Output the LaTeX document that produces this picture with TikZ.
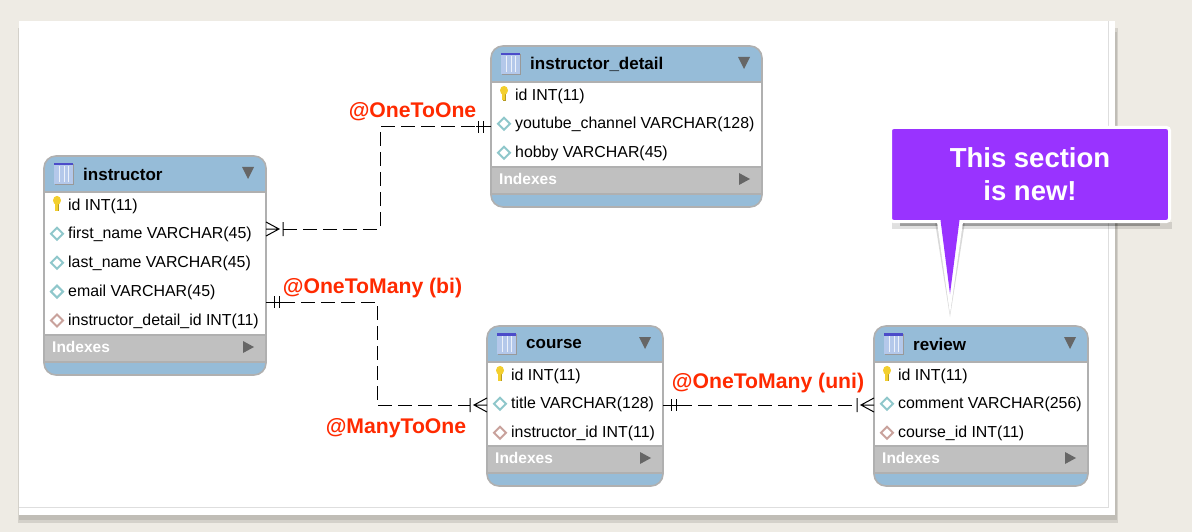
\documentclass[tikz,border=0pt]{standalone}
\usepackage{fontspec}
\setmainfont{Liberation Sans}
\definecolor{paperbg}{HTML}{EEEBE4}
\definecolor{papershadow}{HTML}{B4B2AB}
\definecolor{headblue}{HTML}{96BCD8}
\definecolor{indexgray}{HTML}{C0C0C0}
\definecolor{framegray}{HTML}{B0B0B0}
\definecolor{markgray}{HTML}{666666}
\definecolor{plaindiamond}{HTML}{8FC7CB}
\definecolor{fkdiamond}{HTML}{C9A29C}
\definecolor{keyyellow}{HTML}{F3CF2E}
\definecolor{labelred}{HTML}{FF2A00}
\definecolor{calloutpurple}{HTML}{9933FF}
\definecolor{iconbody}{HTML}{B4C8EA}
\tikzset{
	tabletitle/.style={anchor=west,inner sep=0pt,font=\fontsize{17}{20}\selectfont\bfseries},
	tablerow/.style={anchor=west,inner sep=0pt,font=\fontsize{15.9}{19}\selectfont},
	tableindex/.style={anchor=west,inner sep=0pt,text=white,font=\fontsize{15.5}{18}\selectfont\bfseries},
	rellabel/.style={inner sep=0pt,text=labelred,font=\fontsize{21.2}{25}\selectfont\bfseries},
	relline/.style={line width=1pt,dash pattern=on 14pt off 6pt},
	pics/crowfoot/.style={code={
		\draw [line width=1pt] (0,-7) -- (13,0) -- (0,7) (0,0) -- (13,0) (17,-7) -- (17,7);
	}},
	pics/onebars/.style={code={
		\draw [line width=1pt] (0,0) -- (15,0) (8,-6) -- (8,6) (13,-6) -- (13,6);
	}},
	pics/key/.style={code={
		\fill [keyyellow!75!black] (-1.4,-1) rectangle (1.6,6);
		\fill [keyyellow] (-1.6,-1) rectangle (1,5.6);
		\fill [keyyellow] (0,-4.5) ellipse [x radius=4,y radius=4.5];
	}},
	pics/plainmark/.style={code={
		\draw [plaindiamond,line width=2pt,fill=white] (-6,0) -- (0,-6) -- (6,0) -- (0,6) -- cycle;
	}},
	pics/fkmark/.style={code={
		\draw [fkdiamond,line width=2pt,fill=white] (-6,0) -- (0,-6) -- (6,0) -- (0,6) -- cycle;
	}},
	pics/tableicon/.style={code={
		\fill [black!40] (1,1) rectangle (20,22);
		\fill [iconbody] (0,0) rectangle (19,21);
		\fill [blue!70!black!70] (0,0) rectangle (19,2.5);
		\foreach \c in {5,10,14}
			\draw [white!75!iconbody,line width=.7pt] (\c,3) -- (\c,19);
	}}
}
% name, left, top, right, bottom, title, rows
\newcommand{\erdtable}[7]{
	\begin{scope}
		\clip [rounded corners=12pt] (#2,#3) rectangle (#4,#5);
		\fill [headblue] (#2,#3) rectangle (#4,#5);
		\fill [white] (#2,#3+36) rectangle (#4,#5-40);
		\fill [indexgray] (#2,#5-40) rectangle (#4,#5-13);
		\draw [framegray,line width=1.5pt] (#2,#3+36) -- (#4,#3+36) (#2,#5-40) -- (#4,#5-40) (#2,#5-13) -- (#4,#5-13);
	\end{scope}
	\draw [framegray,line width=1.6pt,rounded corners=12pt] (#2,#3) rectangle (#4,#5);
	\pic at (#2+10,#3+7) {tableicon};
	\node (#1title) [tabletitle] at (#2+39,#3+18) {#6};
	\fill [markgray] (#4-24,#3+11) -- (#4-12,#3+11) -- (#4-18,#3+23) -- cycle;
	\foreach \kind/\txt [count=\i] in {#7}
		{
		\pic at (#2+13,#3+20+\i*28.9) {\kind};
		\node (#1row\i) [tablerow] at (#2+24,#3+21+\i*28.9) {\txt};
		}
	\node (#1index) [tableindex] at (#2+8,#5-28) {Indexes};
	\fill [markgray] (#4-23,#5-34) -- (#4-12,#5-28) -- (#4-23,#5-22) -- cycle;
}
\begin{document}
\begin{tikzpicture}[x=1pt,y=-1pt]
\useasboundingbox (0,0) rectangle (1192,532);
\fill [paperbg] (0,0) rectangle (1192,532);
% paper sheet
\fill [papershadow!45!paperbg] (18,28) rectangle (1118,523);
\fill [papershadow!80!paperbg] (18.5,32) rectangle (1116.5,520);
\fill [white] (19,21) rectangle (1115,515);
\draw [black!13,line width=1pt] (19,507) -- (1108,507) -- (1108,21);

% tables
\erdtable{instructor}{44}{156}{266}{375}{instructor}{key/id INT(11),plainmark/first\_name VARCHAR(45),plainmark/last\_name VARCHAR(45),plainmark/email VARCHAR(45),fkmark/instructor\_detail\_id INT(11)}
\erdtable{detail}{491}{46}{762}{207}{instructor\_detail}{key/id INT(11),plainmark/youtube\_channel VARCHAR(128),plainmark/hobby VARCHAR(45)}
\erdtable{course}{487}{326}{663}{486}{course}{key/id INT(11),plainmark/title VARCHAR(128),fkmark/instructor\_id INT(11)}
\erdtable{review}{874}{326}{1088}{486}{review}{key/id INT(11),plainmark/comment VARCHAR(256),fkmark/course\_id INT(11)}

% connector ends
\coordinate (instructorA) at (266,229);
\coordinate (instructorB) at (266,302);
\coordinate (detailA) at (491,127);
\coordinate (courseA) at (487,405);
\coordinate (courseB) at (663,405);
\coordinate (reviewA) at (874,405);
\coordinate (cornerA) at (380,229);
\coordinate (cornerB) at (380,127);
\coordinate (cornerC) at (377,302);
\coordinate (cornerD) at (377,405);

\draw [relline] ([xshift=17]instructorA) -- (cornerA) -- (cornerB) -- ([xshift=-15]detailA);
\draw [relline] ([xshift=15]instructorB) -- (cornerC) -- (cornerD) -- ([xshift=-17]courseA);
\draw [relline] ([xshift=15]courseB) -- ([xshift=-17]reviewA);
\pic at (instructorA) {crowfoot};
\pic [xscale=-1] at (courseA) {crowfoot};
\pic [xscale=-1] at (reviewA) {crowfoot};
\pic [xscale=-1] at (detailA) {onebars};
\pic at (instructorB) {onebars};
\pic at (courseB) {onebars};

% relation labels
\node (onetoone) [rellabel] at (412.5,112) {@OneToOne};
\node (manybi) [rellabel] at (372.5,288.5) {@OneToMany (bi)};
\node (manytoone) [rellabel] at (396,428.5) {@ManyToOne};
\node (manyuni) [rellabel] at (768,383.5) {@OneToMany (uni)};

% callout
\fill [black,opacity=.12] (892,222) rectangle (1172,229);
\fill [black,opacity=.3] (900,222) rectangle (1160,226);
\fill [black,opacity=.15] (935,222) -- (950,317) -- (965,222) -- cycle;
\fill [white] (937,222) -- (950,314) -- (963,222) -- cycle;
\node (callout) at (1030,174.5) [draw=white,fill=calloutpurple,line width=3pt,rounded corners=3pt,
	minimum width=279pt,minimum height=94pt,align=center,text=white,
	font=\fontsize{27.5}{33}\selectfont\bfseries] {This section\\is new!};
\fill [calloutpurple] (940.5,220) -- (950,294) -- (959.5,220) -- cycle;
\end{tikzpicture}
\end{document}
